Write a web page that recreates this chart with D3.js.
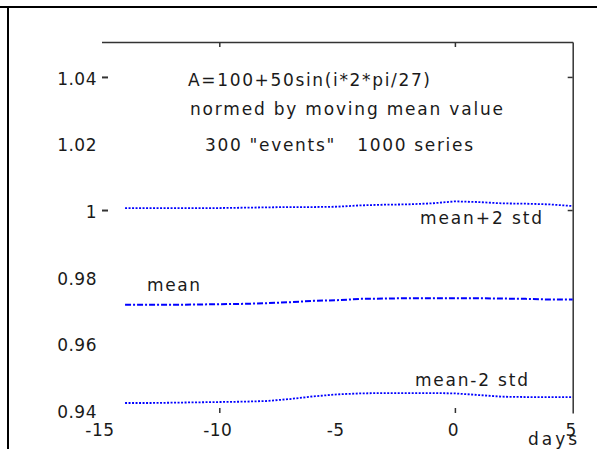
<!DOCTYPE html>
<html>
<head>
<meta charset="utf-8">
<script src="https://cdn.jsdelivr.net/npm/d3@7"></script>
<style>
    body { margin: 0; background: #fff; }
    svg { display: block; }
    text { font-family: "DejaVu Sans", "Liberation Sans", Arial, sans-serif; fill: #1a1a1a; }
</style>
</head>
<body>
<script>
// values (days before/after the event)
const days = [-14, -13, -12, -11, -10, -9, -8, -7, -6, -5, -4, -3, -2, -1, 0, 1, 2, 3, 4, 5];
const upper = [1.0006, 1.0006, 1.0006, 1.0006, 1.0006, 1.0007, 1.0008, 1.0009, 1.0009, 1.0010,
    1.0014, 1.0016, 1.0017, 1.0020, 1.0026, 1.0024, 1.0020, 1.0019, 1.0017, 1.0012];
const mean = [0.9715, 0.9715, 0.9715, 0.9716, 0.9717, 0.9718, 0.9720, 0.9723, 0.9727, 0.9729,
    0.9733, 0.9734, 0.9735, 0.9735, 0.9735, 0.9735, 0.9734, 0.9733, 0.9731, 0.9731];
const lower = [0.9420, 0.9420, 0.9421, 0.9422, 0.9423, 0.9424, 0.9426, 0.9432, 0.9440, 0.9446,
    0.9449, 0.9450, 0.9450, 0.9450, 0.9449, 0.9444, 0.9439, 0.9438, 0.9438, 0.9438];

const xTicks = [-15, -10, -5, 0, 5];
const xMajor = [-10, 0];
const yTicks = [1.04, 1.02, 1, 0.98, 0.96, 0.94];
const yMajor = [1.04, 1];
const yLabels = ["1.04", "1.02", "1", "0.98", "0.96", "0.94"];
const notes = ["A=100+50sin(i*2*pi/27)", "normed by moving mean value", "300 \"events\"   1000 series"];

const width = 597, height = 449;

let svg = d3.select("body").append("svg")
    .attr("width", width)
    .attr("height", height);

// outer frame (only top and left edges are in view)
svg.append("line").attr("x1", 0).attr("x2", width).attr("y1", 7).attr("y2", 7)
    .attr("stroke", "#000").attr("stroke-width", 2);
svg.append("line").attr("x1", 8).attr("x2", 8).attr("y1", 6).attr("y2", height)
    .attr("stroke", "#000").attr("stroke-width", 2);

let xScale = d3.scaleLinear()
    .domain([-15, 5])
    .range([101.5, 572.7]);

let yScale = d3.scaleLinear()
    .domain([0.939, 1.0505])
    .range([413, 42]);

function styleAxis(g) {
    g.selectAll("path, line").attr("stroke", "#333").attr("stroke-width", 1.5);
    g.selectAll("text").attr("font-family", null).attr("font-size", 17).attr("fill", "#1a1a1a")
        .style("letter-spacing", "0.5px");
}

// top box edge with the two major ticks pointing down
svg.append("g")
    .attr("transform", "translate(0,42)")
    .call(d3.axisBottom(xScale).tickValues(xMajor).tickSize(5).tickSizeOuter(0).tickFormat(""))
    .call(styleAxis);

// right box edge
svg.append("g")
    .attr("transform", "translate(" + xScale(5) + ",0)")
    .call(d3.axisLeft(yScale).tickValues(yMajor).tickSize(5).tickSizeOuter(0).tickFormat(""))
    .call(styleAxis);

// bottom ticks only, no line
svg.append("g")
    .attr("transform", "translate(0,413)")
    .call(d3.axisTop(xScale).tickValues(xMajor).tickSize(5).tickFormat(""))
    .call(styleAxis)
    .call(g => g.select(".domain").remove());

// x labels (plain hyphen as minus, like the original)
svg.append("g")
    .attr("transform", "translate(-2,413)")
    .call(d3.axisBottom(xScale).tickValues(xTicks).tickSize(0).tickPadding(11).tickFormat(d => String(d)))
    .call(styleAxis)
    .call(g => g.select(".domain").remove());

// left dashes next to 1.04 and 1
svg.append("g")
    .attr("transform", "translate(108,0)")
    .call(d3.axisLeft(yScale).tickValues(yMajor).tickSize(6).tickFormat(""))
    .call(styleAxis)
    .call(g => g.select(".domain").remove())
    .call(g => g.selectAll("line").attr("stroke-width", 2));

// y labels
svg.append("g")
    .attr("transform", "translate(108,2)")
    .call(d3.axisLeft(yScale).tickValues(yTicks).tickSize(0).tickPadding(11)
        .tickFormat((d, i) => yLabels[i]))
    .call(styleAxis)
    .call(g => g.select(".domain").remove());

let line = d3.line()
    .x((d, i) => xScale(days[i]))
    .y(d => yScale(d));

// the three curves
svg.append("path")
    .datum(upper)
    .attr("fill", "none")
    .attr("stroke", "#0000ff")
    .attr("stroke-width", 1.8)
    .attr("stroke-dasharray", "2,1.5")
    .attr("d", line);

svg.append("path")
    .datum(mean)
    .attr("fill", "none")
    .attr("stroke", "#0000ff")
    .attr("stroke-width", 2)
    .attr("stroke-dasharray", "6,2,2,2")
    .attr("d", line);

svg.append("path")
    .datum(lower)
    .attr("fill", "none")
    .attr("stroke", "#0000ff")
    .attr("stroke-width", 1.8)
    .attr("stroke-dasharray", "2,1.5")
    .attr("d", line);

// annotation block
const noteBox = [[188, 86, 242], [190, 115, 313], [205, 151, 268]];
notes.forEach((t, i) => {
    svg.append("text")
        .attr("x", noteBox[i][0])
        .attr("y", noteBox[i][1])
        .attr("font-size", 17)
        .attr("textLength", noteBox[i][2])
        .attr("lengthAdjust", "spacing")
        .style("white-space", "pre")
        .text(t);
});

// curve labels
function label(t, x, y, w) {
    svg.append("text")
        .attr("x", x).attr("y", y)
        .attr("font-size", 17)
        .attr("textLength", w)
        .attr("lengthAdjust", "spacing")
        .text(t);
}
label("mean+2 std", 420, 224, 122);
label("mean", 147, 291, 53);
label("mean-2 std", 415, 386, 113);
label("days", 528, 445, 49);
</script>
</body>
</html>
